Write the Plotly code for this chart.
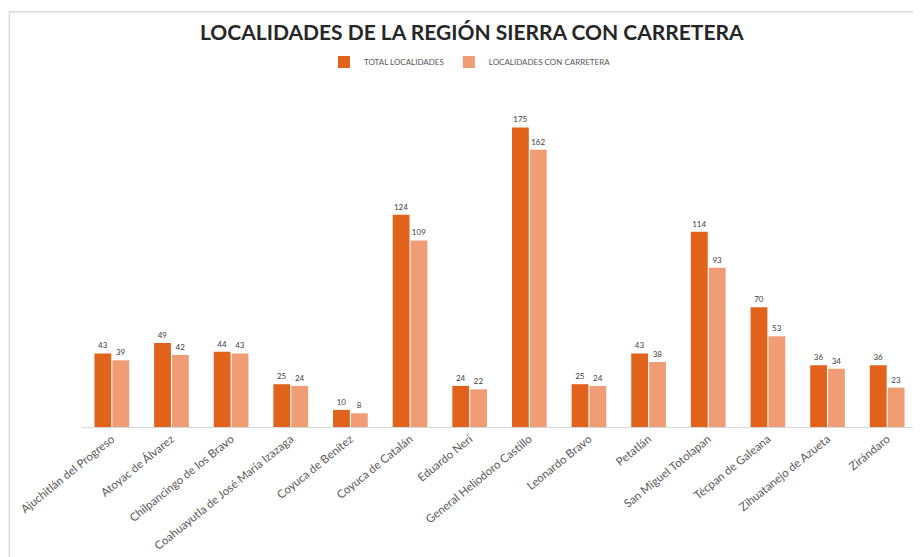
import plotly.graph_objects as go

municipios = [
    "Ajuchitlán del Progreso",
    "Atoyac de Álvarez",
    "Chilpancingo de los Bravo",
    "Coahuayutla de José María Izazaga",
    "Coyuca de Benítez",
    "Coyuca de Catalán",
    "Eduardo Neri",
    "General Heliodoro Castillo",
    "Leonardo Bravo",
    "Petatlán",
    "San Miguel Totolapan",
    "Técpan de Galeana",
    "Zihuatanejo de Azueta",
    "Zirándaro",
]
total_localidades = [43, 49, 44, 25, 10, 124, 24, 175, 25, 43, 114, 70, 36, 36]
con_carretera = [39, 42, 43, 24, 8, 109, 22, 162, 24, 38, 93, 53, 34, 23]

# page body has an 8px margin, so the figure is a bit smaller than the window
W, H = 913, 549

fig = go.Figure()
fig.add_trace(go.Bar(
    x=municipios, y=total_localidades, name="TOTAL LOCALIDADES",
    marker=dict(color="#E1621A", line=dict(width=0)),
    text=total_localidades, textposition="outside",
    textfont=dict(size=8, color="#404040"), cliponaxis=False,
))
fig.add_trace(go.Bar(
    x=municipios, y=con_carretera, name="LOCALIDADES CON CARRETERA",
    marker=dict(color="#F09D76", line=dict(width=0)),
    text=con_carretera, textposition="outside",
    textfont=dict(size=8, color="#404040"), cliponaxis=False,
))

fig.update_layout(
    width=W, height=H,
    margin=dict(l=74, r=4, t=92, b=130, autoexpand=False),
    paper_bgcolor="white", plot_bgcolor="white",
    barmode="group", bargap=0.4, bargroupgap=0.06,
    font=dict(family="Lato, Open Sans, sans-serif", color="#404040"),
    title=dict(
        text="<b>LOCALIDADES DE LA REGIÓN SIERRA CON CARRETERA</b>",
        xref="container", yref="container",
        x=0.508, xanchor="center", y=1 - 25 / H, yanchor="middle",
        font=dict(size=21, color="#262626"),
    ),
    legend=dict(
        orientation="h", xref="container", yref="container",
        x=0.506, xanchor="center", y=1 - 54 / H, yanchor="middle",
        font=dict(size=8, color="#595959"), itemwidth=30,
    ),
    showlegend=True,
)
fig.update_xaxes(
    tickangle=-39, tickfont=dict(size=11.5, color="#595959"),
    showline=True, linecolor="#D9D9D9", linewidth=1, ticks="",
    showgrid=False, automargin=False,
)
fig.update_yaxes(visible=False, range=[0, 191], showgrid=False, automargin=False)

fig.add_shape(
    type="rect", xref="paper", yref="paper",
    x0=-0.087, x1=1.02, y0=-0.6, y1=1.27,
    line=dict(color="#D9D9D9", width=1.5), layer="below",
)

fig.write_html("out.html")
